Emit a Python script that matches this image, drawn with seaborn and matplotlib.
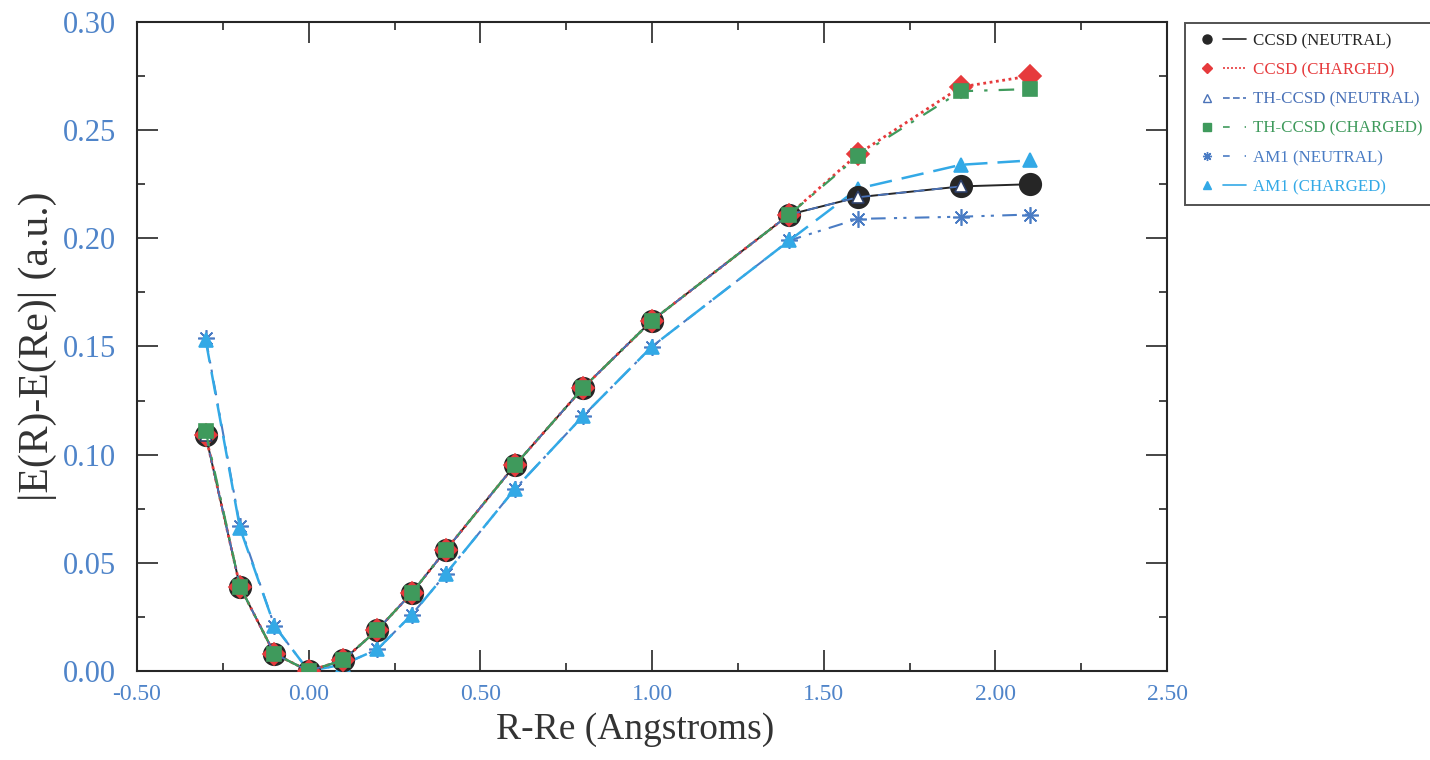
import matplotlib
matplotlib.use("Agg")
import matplotlib.pyplot as plt
from matplotlib.lines import Line2D
from matplotlib.legend_handler import HandlerTuple
from matplotlib.ticker import MultipleLocator, FormatStrFormatter
import seaborn as sns

# Bond displacement from equilibrium (Angstroms)
r_shift = [-0.3, -0.2, -0.1, 0.0, 0.1, 0.2, 0.3, 0.4, 0.6, 0.8, 1.0, 1.4, 1.6, 1.9, 2.1]

# |E(R) - E(Re)| in atomic units
ccsd_neutral = [0.109, 0.039, 0.008, 0.000, 0.005, 0.019, 0.036, 0.056, 0.095, 0.131, 0.162, 0.211, 0.219, 0.224, 0.225]
ccsd_charged = [0.109, 0.039, 0.008, 0.000, 0.005, 0.019, 0.036, 0.056, 0.095, 0.131, 0.162, 0.211, 0.239, 0.270, 0.275]
th_ccsd_neutral = [0.109, 0.039, 0.008, 0.000, 0.005, 0.019, 0.036, 0.056, 0.095, 0.131, 0.162, 0.211, 0.219, 0.224]
th_ccsd_charged = [0.111, 0.039, 0.008, 0.000, 0.005, 0.019, 0.036, 0.056, 0.095, 0.131, 0.162, 0.211, 0.238, 0.268, 0.269]
am1_neutral = [0.154, 0.067, 0.021, 0.000, 0.003, 0.010, 0.026, 0.045, 0.084, 0.118, 0.150, 0.199, 0.209, 0.210, 0.211]
am1_charged = [0.153, 0.066, 0.021, 0.000, 0.003, 0.010, 0.026, 0.045, 0.084, 0.118, 0.150, 0.199, 0.223, 0.234, 0.236]

series_labels = ["CCSD (NEUTRAL)", "CCSD (CHARGED)", "TH-CCSD (NEUTRAL)",
                 "TH-CCSD (CHARGED)", "AM1 (NEUTRAL)", "AM1 (CHARGED)"]

sns.set_theme(style="white")
plt.rcParams["font.family"] = ["Liberation Serif", "DejaVu Serif"]

BLACK = "#262626"
RED = "#e63a3c"
NAVY = "#4a72b8"
GREEN = "#3f9a5c"
BLUE = "#4a7cc4"
SKY = "#33a9e6"
TICK_BLUE = "#4f84c9"

fig = plt.figure(figsize=(14.3, 7.6), dpi=100)
ax = fig.add_axes([137 / 1430, 1 - 671 / 760, (1167 - 137) / 1430, (671 - 22) / 760])

# (y values, line colour, marker, marker size, face colour, edge colour, line style, line width, z-order)
styles = [
    (am1_neutral, BLUE, (8, 2, 0), 12, BLUE, BLUE, (0, (7, 4, 1.5, 3, 1.5, 4)), 1.5, 3),
    (am1_charged, SKY, "^", 10, SKY, SKY, (0, (9, 4)), 1.8, 3.5),
    (ccsd_neutral, BLACK, "o", 15.5, BLACK, BLACK, "-", 1.4, 4),
    (ccsd_charged, RED, "D", 11, RED, RED, (0, (1, 1.3)), 2.0, 5),
    (th_ccsd_neutral, NAVY, "^", 8, "white", "#2b3d66", (0, (6, 4)), 1.3, 6),
    (th_ccsd_charged, GREEN, "s", 10.5, GREEN, GREEN, (0, (7, 5, 1.5, 5)), 1.6, 7),
]

for ys, col, mk, ms, fc, ec, ls, lw, z in styles:
    sns.lineplot(x=r_shift[:len(ys)], y=ys, ax=ax, color=col, marker=mk, markersize=ms,
                 markerfacecolor=fc, markeredgecolor=ec, markeredgewidth=1.2,
                 linestyle=ls, linewidth=lw, zorder=z, sort=False, estimator=None)

ax.set_xlim(-0.5, 2.5)
ax.set_ylim(0.0, 0.30)
ax.xaxis.set_major_locator(MultipleLocator(0.5))
ax.xaxis.set_minor_locator(MultipleLocator(0.25))
ax.yaxis.set_major_locator(MultipleLocator(0.05))
ax.yaxis.set_minor_locator(MultipleLocator(0.025))
ax.xaxis.set_major_formatter(FormatStrFormatter("%.2f"))
ax.yaxis.set_major_formatter(FormatStrFormatter("%.2f"))

ax.tick_params(which="both", direction="in", top=True, right=True, bottom=True, left=True,
               color=BLACK, width=1.2)
ax.tick_params(which="major", length=15, labelcolor=TICK_BLUE)
ax.tick_params(axis="x", which="major", labelsize=17, pad=9)
ax.tick_params(axis="y", which="major", labelsize=22, pad=15)
ax.tick_params(which="minor", length=5.5)
for sp in ax.spines.values():
    sp.set_color(BLACK)
    sp.set_linewidth(1.5)

ax.set_xlabel("R-Re (Angstroms)", fontsize=27, color="#333333")
ax.xaxis.set_label_coords(0.4835, -0.063)
ax.xaxis.label.set_verticalalignment("top")
ax.set_ylabel("|E(R)-E(Re)| (a.u.)", fontsize=30, color="#333333", labelpad=4)

# Legend: marker followed by a short line sample
leg_specs = [
    ("o", BLACK, BLACK, "-", 6.5),
    ("D", RED, RED, (0, (1.2, 1.2)), 5.5),
    ("^", "white", NAVY, (0, (4, 2)), 5.5),
    ("s", GREEN, GREEN, (0, (4, 9)), 5.5),
    ((8, 2, 0), BLUE, BLUE, (0, (4, 9)), 6.5),
    ("^", SKY, SKY, "-", 5.5),
]
handles = []
for mk, fc, ec, ls, ms in leg_specs:
    m = Line2D([], [], marker=mk, markersize=ms, markerfacecolor=fc, markeredgecolor=ec,
               linestyle="none")
    l = Line2D([], [], color=ec if fc != "white" else NAVY, linestyle=ls, linewidth=1.2)
    handles.append((m, l))
text_colours = [BLACK, RED, NAVY, GREEN, BLUE, SKY]
leg = fig.legend(handles, series_labels, handler_map={tuple: HandlerTuple(ndivide=None, pad=0.25)},
                 loc="upper left", bbox_to_anchor=(1185 / 1430, 1 - 23 / 760),
                 frameon=True, fancybox=False, fontsize=12.2, handlelength=3.0,
                 labelspacing=0.78, borderpad=0.6, handletextpad=0.4, borderaxespad=0.0,
                 labelcolor=text_colours)
leg.get_frame().set_edgecolor(BLACK)
leg.get_frame().set_linewidth(1.4)

fig.savefig("out.png", dpi=100)
